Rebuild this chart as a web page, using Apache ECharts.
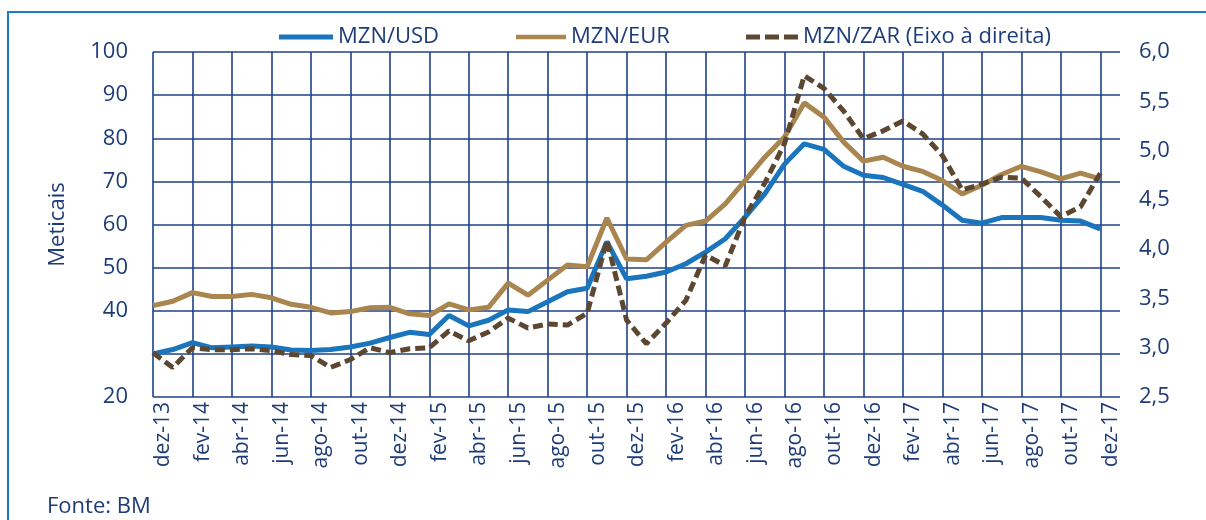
<!DOCTYPE html>
<html>
<head lang="pt">
    <meta charset="UTF-8">
    <title>Taxas de câmbio do metical</title>
    <style>
        html, body { margin: 0; padding: 0; background: #fff; }
    </style>
</head>
<body>
    <div id="main" style="width:1206px;height:520px"></div>

    <script src="https://cdn.jsdelivr.net/npm/echarts@6/dist/echarts.min.js"></script>
    <script>
        // meses (dez-13 .. dez-17)
        var months = ['dez-13',
            'jan-14','fev-14','mar-14','abr-14','mai-14','jun-14','jul-14','ago-14','set-14','out-14','nov-14','dez-14',
            'jan-15','fev-15','mar-15','abr-15','mai-15','jun-15','jul-15','ago-15','set-15','out-15','nov-15','dez-15',
            'jan-16','fev-16','mar-16','abr-16','mai-16','jun-16','jul-16','ago-16','set-16','out-16','nov-16','dez-16',
            'jan-17','fev-17','mar-17','abr-17','mai-17','jun-17','jul-17','ago-17','set-17','out-17','nov-17','dez-17'];

        var mznUsd = [30.0, 31.0, 32.6, 31.4, 31.6, 31.8, 31.6, 30.9, 30.8, 31.0,
                      31.6, 32.5, 33.8, 35.0, 34.5, 38.9, 36.5, 37.8, 40.2, 39.8,
                      42.1, 44.4, 45.2, 56.0, 47.4, 48.0, 49.0, 50.9, 53.6, 56.7,
                      61.7, 67.1, 74.0, 78.7, 77.4, 73.5, 71.4, 70.9, 69.3, 67.7,
                      64.5, 61.0, 60.3, 61.6, 61.6, 61.6, 61.0, 60.8, 59.0];

        var mznEur = [41.2, 42.2, 44.2, 43.3, 43.3, 43.8, 43.0, 41.5, 40.8, 39.5,
                      39.8, 40.7, 40.8, 39.3, 38.9, 41.6, 40.2, 40.8, 46.4, 43.6,
                      47.1, 50.6, 50.2, 61.5, 52.0, 51.8, 55.9, 59.8, 60.8, 64.8,
                      70.2, 75.6, 80.3, 88.2, 84.9, 79.1, 74.7, 75.6, 73.5, 72.3,
                      70.2, 67.1, 69.1, 71.6, 73.5, 72.2, 70.6, 71.9, 70.6];

        var mznZar = [2.95, 2.80, 3.00, 2.98, 2.98, 2.99, 2.97, 2.93, 2.92, 2.80,
                      2.88, 3.00, 2.95, 2.99, 3.00, 3.17, 3.07, 3.16, 3.30, 3.20,
                      3.24, 3.23, 3.35, 4.09, 3.28, 3.04, 3.25, 3.48, 3.94, 3.83,
                      4.33, 4.67, 5.07, 5.76, 5.63, 5.40, 5.12, 5.20, 5.30, 5.17,
                      4.95, 4.60, 4.66, 4.73, 4.72, 4.53, 4.33, 4.43, 4.77];

        var leftTicks = [20, 100, 10];     // min, max, intervalo
        var rightTicks = [2.5, 6.0, 0.5];

        var navy = '#1d3c78';
        var gridColor = '#1f4189';
        var font = 'Open Sans';

        /* eixo x com um mes vazio no fim (como no original) */
        var xData = months.concat(['']);

        // icones da legenda: traco cheio e traco interrompido
        var solidIcon = 'path://M0,0h54v5h-54z';
        var dashIcon = 'path://M0,0h14v5h-14z M19,0h14v5h-14z M38,0h14v5h-14z';

        var legendText = {fontSize: 22, color: navy, fontFamily: font};

        var app = echarts.init(document.getElementById('main'));
        var option = {
            animation: false,
            textStyle: {fontFamily: font, color: navy},
            graphic: [
                {
                    type: 'rect',
                    shape: {x: 8, y: 12, width: 1230, height: 540},
                    style: {fill: 'none', stroke: '#1b7bcb', lineWidth: 2}
                },
                {
                    type: 'text',
                    left: 47,
                    top: 496,
                    style: {text: 'Fonte: BM', fill: navy, font: '22px "Open Sans"'}
                }
            ],
            legend: [
                {left: 274, top: 21, itemWidth: 54, itemHeight: 5, icon: solidIcon,
                    data: ['MZN/USD'], textStyle: legendText},
                {left: 511, top: 21, itemWidth: 50, itemHeight: 5, icon: solidIcon,
                    data: ['MZN/EUR'], textStyle: legendText},
                {left: 741, top: 21, itemWidth: 52, itemHeight: 5, icon: dashIcon,
                    data: ['MZN/ZAR (Eixo à direita)'], textStyle: legendText}
            ],
            grid: {left: 153, right: 86, top: 52, bottom: 123},
            xAxis: {
                type: 'category',
                boundaryGap: false,
                data: xData,
                axisLine: {show: false},
                axisTick: {show: false},
                axisLabel: {
                    interval: 1,
                    rotate: 90,
                    margin: 5,
                    verticalAlign: 'top',
                    fontSize: 21,
                    color: navy,
                    fontFamily: font
                },
                splitLine: {show: true, interval: 1, lineStyle: {color: gridColor, width: 1.6}}
            },
            yAxis: [
                {
                    type: 'value',
                    min: leftTicks[0],
                    max: leftTicks[1],
                    interval: leftTicks[2],
                    name: 'Meticais',
                    nameLocation: 'middle',
                    nameGap: 84,
                    nameTextStyle: {fontSize: 22, color: navy, fontFamily: font},
                    axisLine: {show: false},
                    axisTick: {show: false},
                    axisLabel: {
                        margin: 25,
                        fontSize: 22,
                        color: navy,
                        fontFamily: font,
                        formatter: function(v){ return v === 30 ? '' : v; }
                    },
                    splitLine: {lineStyle: {color: gridColor, width: 1.6}}
                },
                {
                    type: 'value',
                    min: rightTicks[0],
                    max: rightTicks[1],
                    interval: rightTicks[2],
                    axisLine: {show: false},
                    axisTick: {show: false},
                    axisLabel: {
                        margin: 19,
                        fontSize: 22,
                        color: navy,
                        fontFamily: font,
                        formatter: function(v){ return v.toFixed(1).replace('.', ','); }
                    },
                    splitLine: {show: false}
                }
            ],
            series: [
                {
                    name: 'MZN/USD',
                    type: 'line',
                    data: mznUsd,
                    symbol: 'none',
                    color: '#1b75bc',
                    lineStyle: {width: 5, color: '#1b75bc'}
                },
                {
                    name: 'MZN/EUR',
                    type: 'line',
                    data: mznEur,
                    symbol: 'none',
                    color: '#a9864f',
                    lineStyle: {width: 5, color: '#a9864f'}
                },
                {
                    name: 'MZN/ZAR (Eixo à direita)',
                    type: 'line',
                    yAxisIndex: 1,
                    data: mznZar,
                    symbol: 'none',
                    color: '#5c4832',
                    lineStyle: {width: 5, color: '#5c4832', type: [10, 5]}
                }
            ]
        };
        app.setOption(option);
    </script>
</body>
</html>
